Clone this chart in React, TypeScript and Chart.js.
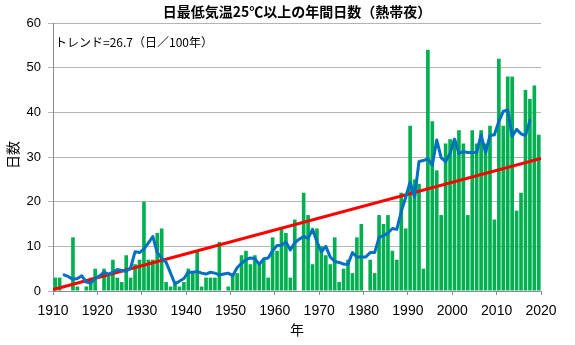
import React, { useEffect, useRef } from 'react';
import { Chart, registerables } from 'chart.js';

Chart.register(...registerables);

// ---- data ----
const firstYear = 1910;
const days = [
  3, 3, 0, 0, 12, 1, 0, 1, 3, 5,        // 1910-1919
  0, 5, 4, 7, 3, 2, 8, 3, 6, 7,         // 1920-1929
  20, 7, 7, 13, 14, 2, 1, 2, 1, 2,      // 1930-1939
  5, 4, 9, 1, 3, 3, 3, 11, 0, 1,        // 1940-1949
  4, 4, 8, 9, 6, 8, 6, 7, 3, 12,        // 1950-1959
  9, 14, 13, 3, 16, 0, 22, 17, 6, 14,   // 1960-1969
  10, 8, 6, 12, 2, 5, 7, 4, 12, 15,     // 1970-1979
  0, 7, 4, 17, 15, 17, 9, 7, 22, 14,    // 1980-1989
  37, 25, 24, 5, 54, 38, 27, 17, 33, 34,// 1990-1999
  34, 36, 33, 17, 36, 33, 36, 33, 37, 16,// 2000-2009
  52, 37, 48, 48, 18, 22, 45, 43, 46, 35 // 2010-2019
];

// 5-year running mean (1912-2017), as drawn in the picture
const maFirstYear = 1912;
const movingAvg = [
  3.6, 3.2, 2.6, 2.8, 3.4, 2.0, 1.8, 2.8,              // 1912-1919
  3.4, 4.2, 3.8, 4.2, 4.8, 4.6, 4.4, 5.2, 8.8, 8.6,    // 1920-1929
  9.4, 10.8, 12.2, 8.6, 7.4, 6.4, 4.0, 1.6, 2.2, 2.8,  // 1930-1939
  4.2, 4.2, 4.4, 4.0, 3.8, 4.2, 4.0, 3.6, 3.8, 4.0,    // 1940-1949
  3.4, 5.2, 6.2, 7.0, 7.4, 7.2, 6.0, 7.2, 7.4, 9.0,    // 1950-1959
  10.2, 10.2, 11.0, 9.2, 10.8, 11.6, 12.2, 11.8, 13.8, 11.0, // 1960-1969
  8.8, 10.0, 7.6, 6.6, 6.4, 6.0, 6.0, 8.6, 7.6, 7.6,   // 1970-1979
  7.6, 8.6, 8.6, 12.0, 12.4, 13.0, 14.0, 13.8, 17.8, 21.0, // 1980-1989
  24.4, 21.0, 29.0, 29.2, 29.6, 28.2, 33.8, 29.8, 29.0, 30.8, // 1990-1999
  34.0, 30.8, 31.2, 31.0, 31.0, 31.0, 35.0, 31.0, 34.8, 35.0, // 2000-2009
  38.0, 40.2, 40.6, 34.6, 36.2, 35.2, 34.8, 38.2        // 2010-2017
];

const trendYears = [1910, 2020];
const trendValues = [0.3, 29.7];

const xMin = 1910;
const xMax = 2020;
const xStep = 10;
const yMin = 0;
const yMax = 60;
const yStep = 10;

const titleText = '日最低気温25℃以上の年間日数（熱帯夜）';
const trendLabel = 'トレンド=26.7（日／100年）';
const yTitle = '日数';
const xTitle = '年';

const JP = '"Noto Sans CJK JP", "Noto Sans", sans-serif';
const NUM = '"Liberation Sans", "DejaVu Sans", sans-serif';

const textPlugin = {
  id: 'chartTexts',
  afterDraw(chart: any) {
    const { ctx, chartArea } = chart;
    const cx = (chartArea.left + chartArea.right) / 2;
    ctx.save();
    ctx.fillStyle = '#000';
    ctx.textBaseline = 'middle';

    ctx.font = `bold 14px ${JP}`;
    ctx.textAlign = 'center';
    ctx.fillText(titleText, cx, 12);

    ctx.font = `12px ${JP}`;
    ctx.textAlign = 'left';
    ctx.fillText(trendLabel, chartArea.left + 2, 42);

    ctx.font = `14px ${JP}`;
    ctx.textAlign = 'center';
    ctx.fillText(xTitle, cx, 330);

    ctx.translate(13, 155);
    ctx.rotate(-Math.PI / 2);
    ctx.fillText(yTitle, 0, 0);
    ctx.restore();
  },
};

export default function App() {
  const ref = useRef<HTMLCanvasElement | null>(null);

  useEffect(() => {
    if (!ref.current) return;
    const barData = days.map((v, i) => ({ x: firstYear + i + 0.5, y: v }));
    const maData = movingAvg.map((v, i) => ({ x: maFirstYear + i + 0.5, y: v }));
    const trendData = trendYears.map((yr, i) => ({ x: yr, y: trendValues[i] }));

    const chart = new Chart(ref.current, {
      type: 'bar',
      data: {
        datasets: [
          {
            type: 'line',
            data: maData,
            borderColor: '#0070C0',
            borderWidth: 3,
            pointRadius: 0,
            tension: 0,
            borderJoinStyle: 'round',
            borderCapStyle: 'round',
            order: 0,
          } as any,
          {
            type: 'line',
            data: trendData,
            borderColor: '#FF0000',
            borderWidth: 3,
            pointRadius: 0,
            order: 1,
          } as any,
          {
            type: 'bar',
            data: barData,
            backgroundColor: '#00B050',
            barPercentage: 0.82,
            categoryPercentage: 1,
            order: 2,
          } as any,
        ],
      },
      options: {
        responsive: false,
        animation: false,
        devicePixelRatio: 1,
        layout: { padding: { left: 0, right: 34, top: 23, bottom: 0 } },
        plugins: {
          legend: { display: false },
          tooltip: { enabled: false },
          title: { display: false },
        },
        scales: {
          x: {
            type: 'linear',
            min: xMin,
            max: xMax,
            offset: false,
            grid: {
              offset: false,
              drawOnChartArea: false,
              drawTicks: true,
              tickLength: 4,
              color: '#8c8c8c',
            },
            border: { color: '#8c8c8c', width: 1 },
            ticks: {
              stepSize: xStep,
              autoSkip: false,
              maxRotation: 0,
              padding: 8,
              color: '#000',
              font: { family: NUM, size: 14 },
              callback: (v: any) => String(v),
            },
            afterFit: (s: any) => { s.height = 54; },
          },
          y: {
            min: yMin,
            max: yMax,
            grid: { color: '#b4b4b4', tickLength: 5, drawTicks: true },
            border: { color: '#8c8c8c', width: 1 },
            ticks: {
              stepSize: yStep,
              padding: 7,
              color: '#000',
              font: { family: NUM, size: 13 },
            },
            afterFit: (s: any) => { s.width = 53; },
          },
        },
      } as any,
      plugins: [textPlugin],
    });
    return () => chart.destroy();
  }, []);

  return (
    <div style={{ position: 'fixed', left: 0, top: 0, width: 575, height: 345, background: '#fff' }}>
      <canvas ref={ref} width={575} height={345} style={{ width: 575, height: 345 }} />
    </div>
  );
}
